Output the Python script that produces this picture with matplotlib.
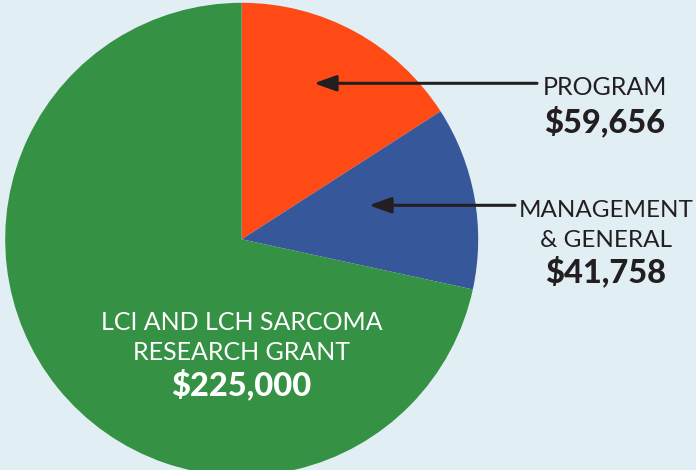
import matplotlib
matplotlib.use("Agg")
import matplotlib.pyplot as plt

# ---- data ----
categories = ["PROGRAM", "MANAGEMENT\n& GENERAL", "LCI AND LCH SARCOMA\nRESEARCH GRANT"]
amounts = [59656, 41758, 225000]
# slice shares as drawn in the reference (percent of the circle)
shares = [15.9, 12.5, 71.6]
colors = ["#FF4A15", "#36589B", "#359144"]

BG = "#E1EFF5"
DARK = "#231F20"
FONT = ["Lato", "DejaVu Sans"]

W, H = 696, 470
fig = plt.figure(figsize=(W / 100, H / 100), dpi=100, facecolor=BG)
ax = fig.add_axes([0, 0, 1, 1])
ax.set_facecolor(BG)

cx, cy, r = 241.7, H - 239.3, 236.5
ax.pie(shares, colors=colors, startangle=90, counterclock=False,
       center=(cx, cy), radius=r, wedgeprops=dict(linewidth=0),
       frame=True)
ax.set_xlim(0, W)
ax.set_ylim(0, H)
ax.set_aspect("equal")
ax.axis("off")

def money(v):
    return f"${v:,}"

# Program label
lx = 605
ax.text(lx, H - 95, categories[0], ha="center", va="baseline",
        fontsize=18, color=DARK, family=FONT)
ax.text(lx, H - 132, money(amounts[0]), ha="center", va="baseline",
        fontsize=23.5, fontweight="black", color=DARK, family=FONT)

# Management label
mg = categories[1].split("\n")
ax.text(lx + 1, H - 216.7, mg[0], ha="center", va="baseline",
        fontsize=17.5, color=DARK, family=FONT)
ax.text(lx + 1, H - 246.7, mg[1], ha="center", va="baseline",
        fontsize=17.5, color=DARK, family=FONT)
ax.text(lx + 1, H - 282, money(amounts[1]), ha="center", va="baseline",
        fontsize=23.5, fontweight="black", color=DARK, family=FONT)

# Research label
rg = categories[2].split("\n")
ax.text(cx, H - 330, rg[0], ha="center", va="baseline",
        fontsize=18, color="white", family=FONT)
ax.text(cx, H - 360, rg[1], ha="center", va="baseline",
        fontsize=18, color="white", family=FONT)
ax.text(cx, H - 395, money(amounts[2]), ha="center", va="baseline",
        fontsize=23.5, fontweight="black", color="white", family=FONT)

# arrows
aprops = dict(arrowstyle="-|>,head_length=0.67,head_width=0.24",
              mutation_scale=20, color=DARK, lw=2.2,
              shrinkA=0, shrinkB=0)
ax.annotate("", xy=(314, H - 83.3), xytext=(537, H - 83.3), arrowprops=aprops)
ax.annotate("", xy=(369, H - 205.3), xytext=(515, H - 205.3), arrowprops=aprops)

fig.savefig("out.png", dpi=100, facecolor=BG)
